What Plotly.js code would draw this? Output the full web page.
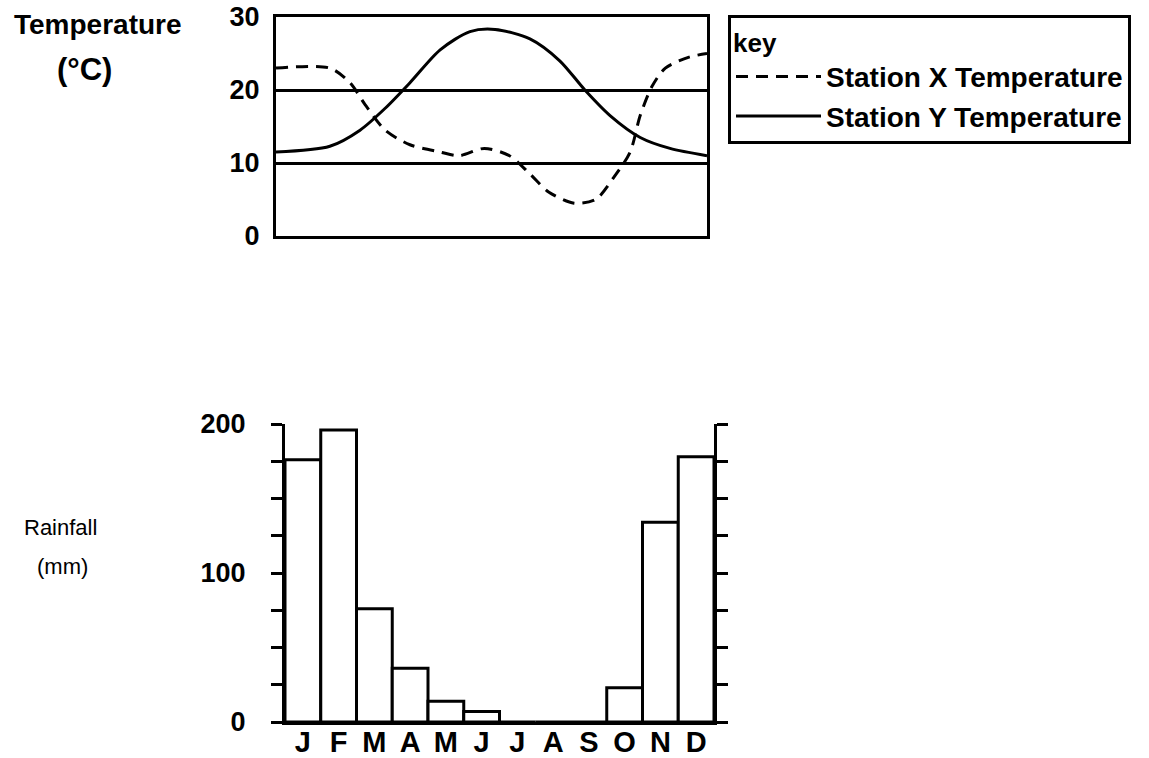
<!DOCTYPE html>
<html>
<head>
<meta charset="utf-8">
<script src="https://cdn.plot.ly/plotly-3.0.1.min.js"></script>
<style>html,body{margin:0;padding:0;background:#fff;}#chart{width:1149px;height:758px;}</style>
</head>
<body>
<div id="chart"></div>
<script>
// Top panel: temperature (x = position in months, 0 = start of Jan, 12 = end of Dec)
const stationXMonth = [0, 1.5, 2.06, 2.48, 3.04, 3.73, 4.57, 5.1, 5.8, 6.5, 7.07, 7.6, 8.3, 8.9, 9.4, 9.86, 10.14, 10.47, 10.84, 11.5, 12];
const stationXTemp  = [23, 23, 21, 18, 14.5, 12.5, 11.5, 11, 12, 11, 8.5, 6, 4.5, 5, 8, 11.5, 16.5, 20.5, 23, 24.5, 25];
const stationYMonth = [0, 1.5, 2.34, 3.04, 3.73, 4.57, 5.4, 6.1, 7.07, 7.9, 8.6, 9.3, 10.14, 10.97, 12];
const stationYTemp  = [11.5, 12.3, 14.5, 17.5, 21, 25.5, 28, 28.3, 27, 24, 20, 16.5, 13.5, 12, 11];
const tempTicks = [0, 10, 20, 30];

// Bottom panel: rainfall
const months = ['J','F','M','A','M','J','J','A','S','O','N','D'];
const rainfall = [176, 196, 76, 36, 14, 7, 0, 0, 0, 23, 134, 178];
const rainTicks = [0, 25, 50, 75, 100, 125, 150, 175, 200];
const rainTickLabels = ['0', '', '', '', '100', '', '', '', '200'];

const FONT = 'Liberation Sans, Arial, sans-serif';
const W = 1149, H = 758;
const px = v => v / W;
const py = v => 1 - v / H;

const traces = [
  {
    x: stationXMonth, y: stationXTemp, type: 'scatter', mode: 'lines',
    name: 'Station X Temperature', xaxis: 'x', yaxis: 'y',
    line: {color: '#000', width: 3, dash: '12px,8px', shape: 'spline', smoothing: 0.8},
    hoverinfo: 'skip'
  },
  {
    x: stationYMonth, y: stationYTemp, type: 'scatter', mode: 'lines',
    name: 'Station Y Temperature', xaxis: 'x', yaxis: 'y',
    line: {color: '#000', width: 3, shape: 'spline', smoothing: 0.8},
    hoverinfo: 'skip'
  },
  {
    x: months.map((m, i) => i), y: rainfall, type: 'bar', xaxis: 'x2', yaxis: 'y2',
    width: 1, showlegend: false, cliponaxis: false,
    marker: {color: '#fff', line: {color: '#000', width: 3}},
    hoverinfo: 'skip'
  }
];

const layout = {
  width: W, height: H,
  margin: {l: 0, r: 0, t: 0, b: 0},
  paper_bgcolor: '#fff', plot_bgcolor: '#fff',
  font: {family: FONT, color: '#000', size: 24},
  showlegend: true,
  legend: {
    x: px(728), y: py(15), xanchor: 'left', yanchor: 'top',
    bordercolor: '#000', borderwidth: 3, bgcolor: '#fff',
    font: {family: FONT, size: 28, color: '#000', weight: 'bold'},
    title: {text: 'key', font: {family: FONT, size: 26, color: '#000', weight: 'bold'}},
    itemwidth: 85, traceorder: 'normal', tracegroupgap: 0
  },
  xaxis: {
    domain: [px(276), px(707)], range: [0, 12], anchor: 'y',
    showline: true, mirror: true, linecolor: '#000', linewidth: 3,
    showgrid: false, zeroline: false, showticklabels: false, ticks: ''
  },
  yaxis: {
    domain: [py(236), py(17)], range: [0, 30], anchor: 'x',
    tickvals: tempTicks, ticktext: tempTicks.map(String),
    showline: true, mirror: true, linecolor: '#000', linewidth: 3,
    showgrid: true, gridcolor: '#000', gridwidth: 3, zeroline: false,
    ticks: '', ticklabelstandoff: 8,
    tickfont: {family: FONT, size: 27, color: '#000', weight: 'bold'}
  },
  xaxis2: {
    domain: [px(285), px(714)], range: [-0.5, 11.5], anchor: 'y2',
    tickvals: months.map((m, i) => i), ticktext: months,
    showline: true, linecolor: '#000', linewidth: 3, mirror: false,
    showgrid: false, zeroline: false, ticks: '', ticklabelstandoff: -8,
    tickfont: {family: FONT, size: 29, color: '#000', weight: 'bold'}
  },
  yaxis2: {
    domain: [py(722), py(424)], range: [0, 200], anchor: 'x2',
    tickvals: rainTicks, ticktext: rainTickLabels,
    showline: true, mirror: 'ticks', linecolor: '#000', linewidth: 3,
    ticks: 'outside', ticklen: 11, tickwidth: 3, tickcolor: '#000',
    showgrid: false, zeroline: false, ticklabelstandoff: 20,
    tickfont: {family: FONT, size: 27, color: '#000', weight: 'bold'}
  },
  annotations: [
    {text: 'Temperature', x: px(98), y: py(25), xref: 'paper', yref: 'paper', showarrow: false,
     xanchor: 'center', yanchor: 'middle', font: {family: FONT, size: 28, color: '#000', weight: 'bold'}},
    {text: '(°C)', x: px(84), y: py(70), xref: 'paper', yref: 'paper', showarrow: false,
     xanchor: 'center', yanchor: 'middle', font: {family: FONT, size: 31, color: '#000', weight: 'bold'}},
    {text: 'Rainfall', x: px(60), y: py(527), xref: 'paper', yref: 'paper', showarrow: false,
     xanchor: 'center', yanchor: 'middle', font: {family: FONT, size: 22, color: '#000'}},
    {text: '(mm)', x: px(62), y: py(566), xref: 'paper', yref: 'paper', showarrow: false,
     xanchor: 'center', yanchor: 'middle', font: {family: FONT, size: 22, color: '#000'}}
  ]
};

Plotly.newPlot('chart', traces, layout, {staticPlot: true, displayModeBar: false});
</script>
</body>
</html>
